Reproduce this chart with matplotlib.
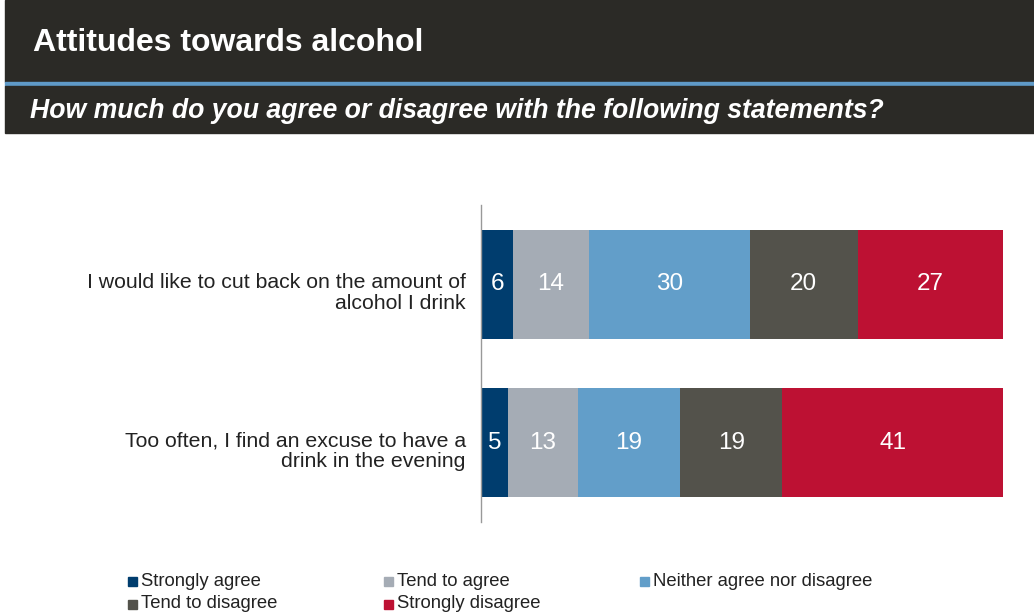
import matplotlib.pyplot as plt
from matplotlib.patches import Rectangle
from matplotlib.transforms import ScaledTranslation

plt.rcParams['font.family'] = ['Liberation Sans', 'DejaVu Sans']

statements = ['I would like to cut back on the amount of\nalcohol I drink',
              'Too often, I find an excuse to have a\ndrink in the evening']
responses = ['Strongly agree', 'Tend to agree', 'Neither agree nor disagree',
             'Tend to disagree', 'Strongly disagree']
strongly_agree = [6, 5]
tend_agree = [14, 13]
neither = [30, 19]
tend_disagree = [20, 19]
strongly_disagree = [27, 41]
colors = ['#003d6e', '#a5acb5', '#629ec9', '#53524b', '#bd1133']

W, H = 1034, 612
fig = plt.figure(figsize=(W / 100, H / 100), dpi=100)
fig.patch.set_facecolor('white')

# header bands
fig.patches.append(Rectangle((5 / W, 1 - 82 / H), 1, 82 / H, transform=fig.transFigure,
                             color='#2b2a26', zorder=0))
fig.patches.append(Rectangle((5 / W, 1 - 86 / H), 1, 4 / H, transform=fig.transFigure,
                             color='#5f9ac8', zorder=0))
fig.patches.append(Rectangle((5 / W, 1 - 133 / H), 1, 47 / H, transform=fig.transFigure,
                             color='#2b2a26', zorder=0))
fig.text(33 / W, 1 - 43 / H, 'Attitudes towards alcohol', color='white', fontsize=23,
         fontweight='bold', va='center', ha='left')
fig.text(30 / W, 1 - 111 / H, 'How much do you agree or disagree with the following statements?',
         color='white', fontsize=19.2, fontweight='bold', fontstyle='italic', va='center', ha='left')

ax = fig.add_axes([481 / W, 1 - 522 / H, (1019 - 481) / W, (522 - 205) / H])
series = [strongly_agree, tend_agree, neither, tend_disagree, strongly_disagree]
ypos = [0, 1]
left = [0, 0]
for vals, col in zip(series, colors):
    bars = ax.barh(ypos, vals, left=left, height=0.685, color=col)
    for b, v in zip(bars, vals):
        ax.text(b.get_x() + b.get_width() / 2, b.get_y() + b.get_height() / 2, str(v),
                color='white', fontsize=17.5, ha='center', va='center')
    left = [l + v for l, v in zip(left, vals)]

ax.set_xlim(0, 100)
ax.set_ylim(1.5, -0.5)
ax.set_yticks(ypos)
ax.set_yticklabels(statements, fontsize=15.3, color='#222222', linespacing=1.1)
ax.tick_params(axis='y', length=0, pad=11)
# nudge the statement labels slightly downwards
for lab in ax.get_yticklabels():
    lab.set_transform(lab.get_transform() + ScaledTranslation(0, -0.06, fig.dpi_scale_trans))
ax.set_xticks([])
for s in ['top', 'right', 'bottom']:
    ax.spines[s].set_visible(False)
ax.spines['left'].set_color('#999999')
ax.spines['left'].set_linewidth(1)
ax.set_facecolor('none')

# legend laid out in three columns
for i, (name, col) in enumerate(zip(responses, colors)):
    x0 = 128 + 256 * (i % 3)
    y0 = 581 + 23 * (i // 3)
    fig.patches.append(Rectangle((x0 / W, 1 - (y0 + 5) / H), 9 / W, 9 / H,
                                 transform=fig.transFigure, color=col))
    fig.text((x0 + 13) / W, 1 - y0 / H, name, fontsize=13.3, color='#222222',
             va='center', ha='left')

fig.savefig('out.png', dpi=100)
